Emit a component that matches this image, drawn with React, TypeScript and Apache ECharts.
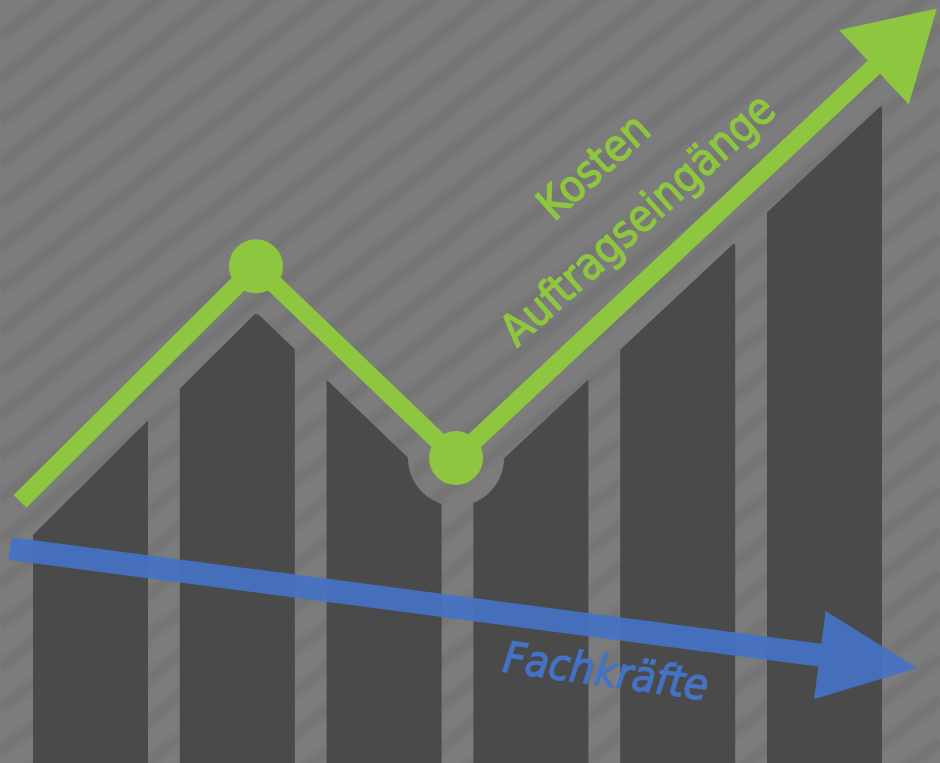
import React, { useEffect, useRef } from "react";
import * as echarts from "echarts";

// ---- Data ----
// Columns (Auftragseingänge) — position index and height at highest point (0–100 scale)
const barPositions = [1, 2, 3, 4, 5, 6];
const barValues = [44.95, 58.85, 50.6, 50.2, 68.0, 86.0];

// Kosten / Auftragseingänge trend line (last point = arrow tip)
const kostenX = [0.52, 2.127, 3.49, 6.765];
const kostenY = [34.3, 65.1, 39.97, 98.9];
const kostenMarker = [false, true, true, false];

// Fachkräfte trend arrow (start, tip)
const fachX = [0.4516, 6.63];
const fachY = [28.1, 12.45];

// Labels
const labelKosten = "Kosten";
const labelAuftrag = "Auftragseingänge";
const labelFach = "Fachkräfte";

// ---- Styles ----
const BG = "#7c7c7c";
const BAR_COLOR = "#4a4a4a";
const GREEN = "#8ec640";
const BLUE = "#4472c4";
const BAR_W = 0.7834; // in x units
const LINE_W = 18;
const LINE_CLEAR = 33; // perpendicular clearance line centre -> bars
const CIRCLE_R = 27;
const HALO_R = 48;
const K_HEAD_LEN = 86;
const K_HEAD_HALF = 51;
const F_SHAFT_HALF = 11.5;
const F_HEAD_HALF = 44.5;
const F_HEAD_LEN = 98;
const FONT = '"DejaVu Sans Condensed", "DejaVu Sans", sans-serif';

function buildStripes(w: number, h: number) {
  const els: any[] = [];
  const slope = 0.77;
  for (let k = -2; k < 40; k++) {
    const y1 = 37 + 42 * k;
    const y2 = y1 - slope * w;
    els.push({
      type: "line",
      silent: true,
      z: 0,
      shape: { x1: 0, y1, x2: w, y2 },
      style: { stroke: "rgba(0,0,0,0.022)", lineWidth: 18 },
    });
    els.push({
      type: "line",
      silent: true,
      z: 0,
      shape: { x1: 0, y1, x2: w, y2 },
      style: { stroke: "rgba(0,0,0,0.028)", lineWidth: 9 },
    });
  }
  return els;
}

export default function App() {
  const ref = useRef<HTMLDivElement>(null);

  useEffect(() => {
    if (!ref.current) return;
    const chart = echarts.init(ref.current, null, { renderer: "svg" });
    const W = 940;
    const H = 763;

    const kostenData = kostenX.map((x, i) => [x, kostenY[i]]);
    const fachData = fachX.map((x, i) => [x, fachY[i]]);
    const barData = barPositions.map((x, i) => [x, barValues[i]]);

    const textStyle = (text: string, fill: string, size: number, italic = false) => ({
      text,
      fill,
      stroke: fill,
      lineWidth: 1.2,
      font: `${italic ? "italic " : ""}normal ${size}px ${FONT}`,
      fontSize: size,
      fontFamily: FONT,
      fontStyle: italic ? "italic" : "normal",
      textAlign: "center",
      textVerticalAlign: "middle",
      align: "center",
      verticalAlign: "middle",
    });

    const option: any = {
      animation: false,
      backgroundColor: BG,
      grid: { left: 0, right: 0, top: 0, bottom: 0, containLabel: false },
      xAxis: { type: "value", min: 0.3835, max: 6.7868, show: false },
      yAxis: { type: "value", min: 0, max: 100, show: false },
      graphic: [
        ...buildStripes(W, H),
        {
          type: "text",
          z: 100,
          x: 593,
          y: 166,
          rotation: (42 * Math.PI) / 180,
          style: textStyle(labelKosten, GREEN, 44),
        },
        {
          type: "text",
          z: 100,
          x: 637,
          y: 219,
          rotation: (42 * Math.PI) / 180,
          style: textStyle(labelAuftrag, GREEN, 44),
        },
        {
          type: "text",
          z: 100,
          x: 606,
          y: 671,
          rotation: (-8 * Math.PI) / 180,
          style: textStyle(labelFach, BLUE, 43, true),
        },
      ],
      series: [
        {
          type: "custom",
          name: "Auftragseingänge",
          z: 2,
          data: barData,
          renderItem: (params: any, api: any) => {
            const x = api.value(0);
            const v = api.value(1);
            const bottom = api.coord([x, 0]);
            const top = api.coord([x, v]);
            const halfW = api.size([BAR_W, 0])[0] / 2;
            const x0 = bottom[0] - halfW;
            const x1 = bottom[0] + halfW;
            const linePts = kostenX.map((kx, i) => api.coord([kx, kostenY[i]]));
            const circles = linePts.filter((_: any, i: number) => kostenMarker[i]);
            const limit = (px: number) => {
              let y = top[1];
              for (let i = 0; i < linePts.length - 1; i++) {
                const [ax, ay] = linePts[i];
                const [bx, by] = linePts[i + 1];
                if (px >= ax && px <= bx) {
                  const t = (px - ax) / (bx - ax);
                  const ly = ay + t * (by - ay);
                  const len = Math.hypot(bx - ax, by - ay);
                  const off = (LINE_CLEAR * len) / (bx - ax);
                  y = Math.max(y, ly + off);
                }
              }
              for (const [cx, cy] of circles) {
                const dx = px - cx;
                if (Math.abs(dx) < HALO_R) {
                  y = Math.max(y, cy + Math.sqrt(HALO_R * HALO_R - dx * dx));
                }
              }
              return y;
            };
            const pts: number[][] = [[x0, bottom[1]]];
            for (let px = x0; px < x1; px += 1) pts.push([px, limit(px)]);
            pts.push([x1, limit(x1)]);
            pts.push([x1, bottom[1]]);
            return {
              type: "polygon",
              shape: { points: pts },
              style: { fill: BAR_COLOR },
            };
          },
        },
        {
          type: "custom",
          name: "Kosten",
          z: 5,
          data: kostenData,
          renderItem: (params: any, api: any) => {
            if (params.dataIndex !== 0) return null;
            const pts = kostenX.map((kx, i) => api.coord([kx, kostenY[i]]));
            const n = pts.length;
            const tip = pts[n - 1];
            const prev = pts[n - 2];
            const dx = tip[0] - prev[0];
            const dy = tip[1] - prev[1];
            const L = Math.hypot(dx, dy);
            const ux = dx / L;
            const uy = dy / L;
            const nx = -uy;
            const ny = ux;
            const base = [tip[0] - ux * K_HEAD_LEN, tip[1] - uy * K_HEAD_LEN];
            const shaftEnd = [tip[0] - ux * (K_HEAD_LEN - 15), tip[1] - uy * (K_HEAD_LEN - 15)];
            const shaft = pts.slice(0, n - 1).concat([shaftEnd]);
            const children: any[] = [
              {
                type: "polyline",
                shape: { points: shaft },
                style: { stroke: GREEN, lineWidth: LINE_W, fill: null, lineJoin: "round", lineCap: "butt" },
              },
              {
                type: "polygon",
                shape: {
                  points: [
                    tip,
                    [base[0] + nx * K_HEAD_HALF, base[1] + ny * K_HEAD_HALF],
                    [base[0] - nx * K_HEAD_HALF, base[1] - ny * K_HEAD_HALF],
                  ],
                },
                style: { fill: GREEN },
              },
            ];
            pts.forEach((p: number[], i: number) => {
              if (kostenMarker[i]) {
                children.push({
                  type: "circle",
                  shape: { cx: p[0], cy: p[1], r: CIRCLE_R },
                  style: { fill: GREEN },
                });
              }
            });
            return { type: "group", children };
          },
        },
        {
          type: "custom",
          name: "Fachkräfte",
          z: 6,
          data: fachData,
          renderItem: (params: any, api: any) => {
            if (params.dataIndex !== 0) return null;
            const s = api.coord([fachX[0], fachY[0]]);
            const tip = api.coord([fachX[1], fachY[1]]);
            const dx = tip[0] - s[0];
            const dy = tip[1] - s[1];
            const L = Math.hypot(dx, dy);
            const ux = dx / L;
            const uy = dy / L;
            const nx = -uy;
            const ny = ux;
            const base = [tip[0] - ux * F_HEAD_LEN, tip[1] - uy * F_HEAD_LEN];
            const P = (p: number[], k: number) => [p[0] + nx * k, p[1] + ny * k];
            return {
              type: "polygon",
              shape: {
                points: [
                  P(s, F_SHAFT_HALF),
                  P(base, F_SHAFT_HALF),
                  P(base, F_HEAD_HALF),
                  tip,
                  P(base, -F_HEAD_HALF),
                  P(base, -F_SHAFT_HALF),
                  P(s, -F_SHAFT_HALF),
                ],
              },
              style: { fill: BLUE, opacity: 0.92 },
            };
          },
        },
      ],
    };

    chart.setOption(option);
    return () => chart.dispose();
  }, []);

  return (
    <div
      ref={ref}
      style={{ position: "absolute", left: 0, top: 0, width: 940, height: 763 }}
    />
  );
}
